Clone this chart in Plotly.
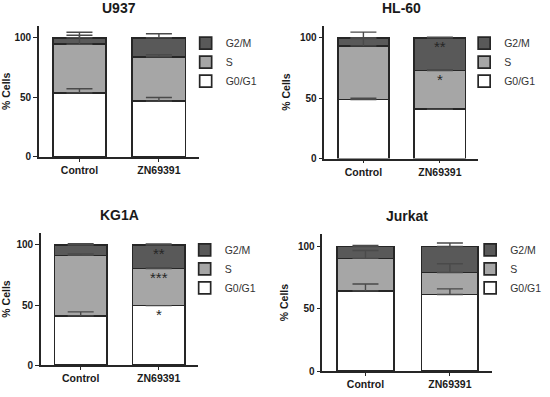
import plotly.graph_objects as go
import numpy as np

# ---------------- data ----------------
categories = ["Control", "ZN69391"]
panel_titles = ["U937", "HL-60", "KG1A", "Jurkat"]
phase_names = ["G0/G1", "S", "G2/M"]

# % cells per phase  [Control, ZN69391]
u937_g0g1 = [53.7, 46.8]
u937_s = [40.8, 37.2]
u937_g2m = [5.5, 16.0]
hl60_g0g1 = [48.9, 40.8]
hl60_s = [44.3, 32.0]
hl60_g2m = [6.8, 27.2]
kg1a_g0g1 = [41.0, 49.5]
kg1a_s = [50.3, 30.8]
kg1a_g2m = [8.7, 19.7]
jurkat_g0g1 = [64.4, 61.5]
jurkat_s = [26.1, 17.6]
jurkat_g2m = [9.5, 20.9]

# upper error bars
u937_g0g1_err = [3.5, 3.0]
u937_s_err = [7.6, 1.7]
u937_g2m_err = [4.6, 3.3]
hl60_g0g1_err = [1.0, 0.0]
hl60_s_err = [6.0, 0.8]
hl60_g2m_err = [4.6, 0.5]
kg1a_g0g1_err = [3.3, 0.0]
kg1a_s_err = [1.3, 0.8]
kg1a_g2m_err = [1.1, 0.8]
jurkat_g0g1_err = [5.5, 4.5]
jurkat_s_err = [6.3, 7.1]
jurkat_g2m_err = [0.8, 2.8]

# significance labels
hl60_stars = {"G0/G1": ["", ""], "S": ["", "*"], "G2/M": ["", "**"]}
kg1a_stars = {"G0/G1": ["", "*"], "S": ["", "***"], "G2/M": ["", "**"]}
no_stars = {"G0/G1": ["", ""], "S": ["", ""], "G2/M": ["", ""]}

panels = [
    ([u937_g0g1, u937_s, u937_g2m], [u937_g0g1_err, u937_s_err, u937_g2m_err], no_stars),
    ([hl60_g0g1, hl60_s, hl60_g2m], [hl60_g0g1_err, hl60_s_err, hl60_g2m_err], hl60_stars),
    ([kg1a_g0g1, kg1a_s, kg1a_g2m], [kg1a_g0g1_err, kg1a_s_err, kg1a_g2m_err], kg1a_stars),
    ([jurkat_g0g1, jurkat_s, jurkat_g2m], [jurkat_g0g1_err, jurkat_s_err, jurkat_g2m_err], no_stars),
]

# ---------------- styles / layout ----------------
W, H = 550, 397
FONT = "Liberation Sans, Arial, sans-serif"
fills = {"G0/G1": "#ffffff", "S": "#a6a6a6", "G2/M": "#595959"}
edge = "#262626"
err_col = "#4a4a4a"

# pixel boxes: (x0, x1, y_bottom(value 0), y_top(value 110))
boxes = [(38, 198, 159.3, 26.2), (324, 478, 161.0, 26.0),
         (40, 197, 370.7, 236.5), (322, 492, 376.7, 237.7)]
# legend (left x, top y)
legend_px = [(185, 29), (464, 29), (184, 239), (470, 239)]

def px_x(v):
    return v / W

def px_y(v):
    return 1 - v / H

fig = go.Figure()
layout = dict(
    width=W, height=H, margin=dict(l=0, r=0, t=0, b=0),
    paper_bgcolor="white", plot_bgcolor="white",
    barmode="stack", bargap=0.33, showlegend=True,
    font=dict(family=FONT, color="#1a1a1a"),
)
annotations = []

for i, (vals, errs, stars) in enumerate(panels):
    n = i + 1
    xa = "x" if n == 1 else f"x{n}"
    ya = "y" if n == 1 else f"y{n}"
    lg = "legend" if n == 1 else f"legend{n}"
    x0, x1, yb, yt = boxes[i]
    cum = np.zeros(len(categories))
    tops = []
    for ph, v in zip(phase_names, vals):
        fig.add_trace(go.Bar(
            x=categories, y=v, name=ph, xaxis=xa, yaxis=ya, legend=lg,
            marker=dict(color=fills[ph], line=dict(color=edge, width=1.7)),
            width=0.67, hoverinfo="skip",
        ))
        cum = cum + np.array(v)
        tops.append(cum.copy())
    # error bars drawn above all bars
    for ph, top, e in zip(phase_names, tops, errs):
        fig.add_trace(go.Scatter(
            x=categories, y=top, mode="markers", xaxis=xa, yaxis=ya,
            marker=dict(size=1, opacity=0), showlegend=False, hoverinfo="skip",
            error_y=dict(type="data", symmetric=False, array=e,
                         arrayminus=[0] * len(e), color=err_col,
                         thickness=1.4, width=13),
        ))
    # significance stars
    for ph, top in zip(phase_names, tops):
        for c, t, s in zip(categories, top, stars[ph]):
            if s:
                annotations.append(dict(
                    x=c, y=t, xref=xa, yref=ya, text=s, showarrow=False,
                    yanchor="top", yshift=2,
                    font=dict(family=FONT, size=15, color="#262626"),
                ))
    layout["xaxis" if n == 1 else f"xaxis{n}"] = dict(
        domain=[px_x(x0), px_x(x1)], anchor=ya, range=[-0.51, 1.5],
        showline=True, linecolor="#262626", linewidth=1.6,
        ticks="outside", ticklen=3, tickwidth=1.4, tickcolor="#262626",
        tickfont=dict(family=FONT, size=10.5, color="#1a1a1a", weight="bold"),
        showgrid=False, zeroline=False, fixedrange=True,
    )
    layout["yaxis" if n == 1 else f"yaxis{n}"] = dict(
        domain=[px_y(yb), px_y(yt)], anchor=xa, range=[0, 110],
        tickvals=[0, 50, 100], ticktext=["0", "50", "100"],
        showline=True, linecolor="#262626", linewidth=1.6,
        ticks="outside", ticklen=4, tickwidth=1.4, tickcolor="#262626",
        tickfont=dict(family=FONT, size=10, color="#1a1a1a", weight="bold"),
        title=dict(text="<b>% Cells</b>", standoff=7,
                   font=dict(family=FONT, size=10.5, color="#1a1a1a")),
        showgrid=False, zeroline=False, fixedrange=True,
    )
    lx, ly = legend_px[i]
    layout[lg] = dict(
        x=px_x(lx), y=px_y(ly), xanchor="left", yanchor="top",
        xref="paper", yref="paper", traceorder="reversed",
        font=dict(family=FONT, size=10.5, color="#333333"),
        bgcolor="rgba(0,0,0,0)", itemwidth=30, tracegroupgap=0,
    )
    annotations.append(dict(
        x=(px_x(x0) + px_x(x1)) / 2, y=px_y(yt - 18), xref="paper", yref="paper",
        text=f"<b>{panel_titles[i]}</b>", showarrow=False,
        xanchor="center", yanchor="middle",
        font=dict(family=FONT, size=14, color="#1a1a1a"),
    ))

layout["annotations"] = annotations
fig.update_layout(**layout)
fig.write_html("out.html", post_script="document.body.style.margin='0';",
               config={"displayModeBar": False})
